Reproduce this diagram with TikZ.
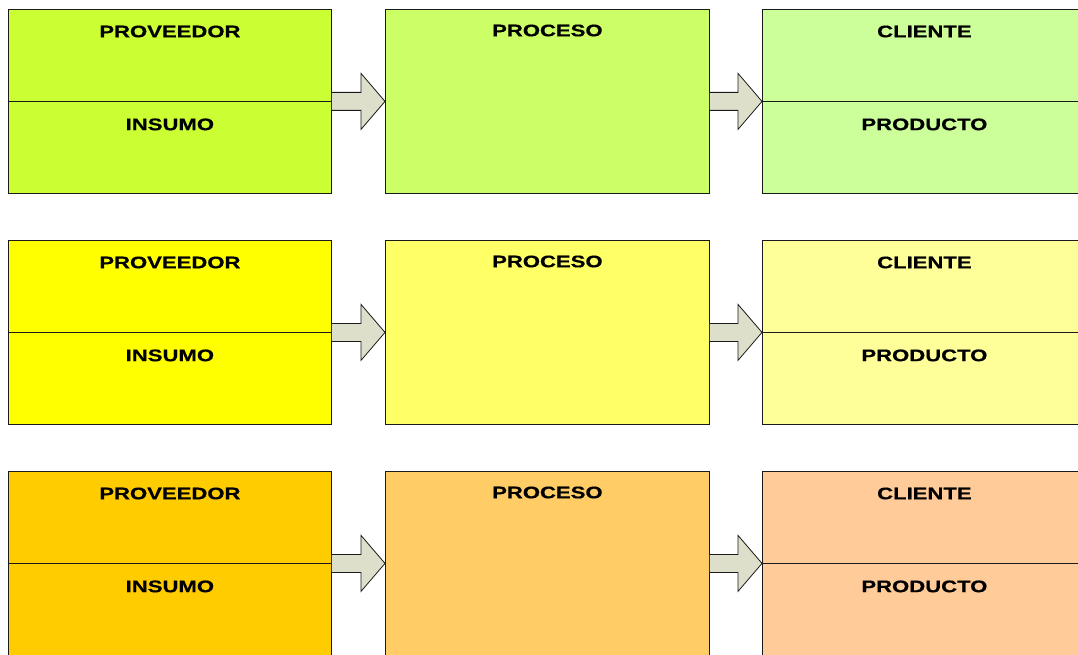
\documentclass[tikz,border=0pt]{standalone}
\usepackage{fontspec}
\usetikzlibrary{calc}
\newfontfamily\lblfont{Liberation Sans}[BoldFeatures={FakeBold=0.4}]

% fills of the three rows
\definecolor{rAleft}{HTML}{CCFF33}
\definecolor{rAmid}{HTML}{CCFF66}
\definecolor{rAright}{HTML}{CCFF99}
\definecolor{rBleft}{HTML}{FFFF00}
\definecolor{rBmid}{HTML}{FFFF66}
\definecolor{rBright}{HTML}{FFFF99}
\definecolor{rCleft}{HTML}{FFCC00}
\definecolor{rCmid}{HTML}{FFCC66}
\definecolor{rCright}{HTML}{FFCC99}
\definecolor{arrowfill}{HTML}{DDDFCA}
\definecolor{edge}{HTML}{1A1A1A}

\newcommand{\lbltext}[1]{\scalebox{1.315}[1]{\lblfont\bfseries\fontsize{16.8}{19}\selectfont #1}}

\begin{document}
\begin{tikzpicture}[x=1pt,y=-1pt,
  box/.style={draw=edge,line width=0.8pt,rectangle,inner sep=0pt,minimum height=184pt},
  sidebox/.style={box,minimum width=323pt},
  midbox/.style={box,minimum width=324pt},
  label/.style={anchor=base,inner sep=0pt},
  blockarrow/.style={fill=arrowfill,draw=edge,line width=0.8pt,line join=miter}
]
\useasboundingbox (0,0) rectangle (1078,655);
\clip (0,0) rectangle (1078,655);

% one row: supplier/input, process, customer/product, joined by block arrows
\foreach \r/\top in {A/9,B/240,C/471}{
  \node[sidebox,fill=r\r left,anchor=north west] (prov\r) at (8,\top) {};
  \node[midbox,fill=r\r mid,anchor=north west] (proc\r) at (385,\top) {};
  \node[sidebox,minimum width=324pt,fill=r\r right,anchor=north west] (cli\r) at (762,\top) {};
  \draw[edge,line width=0.8pt] (prov\r.west) -- (prov\r.east);
  \draw[edge,line width=0.8pt] (cli\r.west) -- (cli\r.east);
  \node[label] (provT\r) at ($(prov\r.north)+(0,28.3)$) {\lbltext{PROVEEDOR}};
  \node[label] (insT\r) at ($(prov\r.center)+(0,28.8)$) {\lbltext{INSUMO}};
  \node[label] (procT\r) at ($(proc\r.north)+(0,27.3)$) {\lbltext{PROCESO}};
  \node[label] (cliT\r) at ($(cli\r.north)+(0,28.3)$) {\lbltext{CLIENTE}};
  \node[label] (prodT\r) at ($(cli\r.center)+(0,28.8)$) {\lbltext{PRODUCTO}};
  % block arrows, open on the side that touches the source box
  \filldraw[blockarrow] ($(prov\r.east)+(0,-9)$) -- ($(proc\r.west)+(-24,-9)$)
    -- ($(proc\r.west)+(-24,-28)$) -- (proc\r.west) -- ($(proc\r.west)+(-24,28)$)
    -- ($(proc\r.west)+(-24,9)$) -- ($(prov\r.east)+(0,9)$);
  \filldraw[blockarrow] ($(proc\r.east)+(0,-9)$) -- ($(cli\r.west)+(-24,-9)$)
    -- ($(cli\r.west)+(-24,-28)$) -- (cli\r.west) -- ($(cli\r.west)+(-24,28)$)
    -- ($(cli\r.west)+(-24,9)$) -- ($(proc\r.east)+(0,9)$);
}
\end{tikzpicture}
\end{document}
